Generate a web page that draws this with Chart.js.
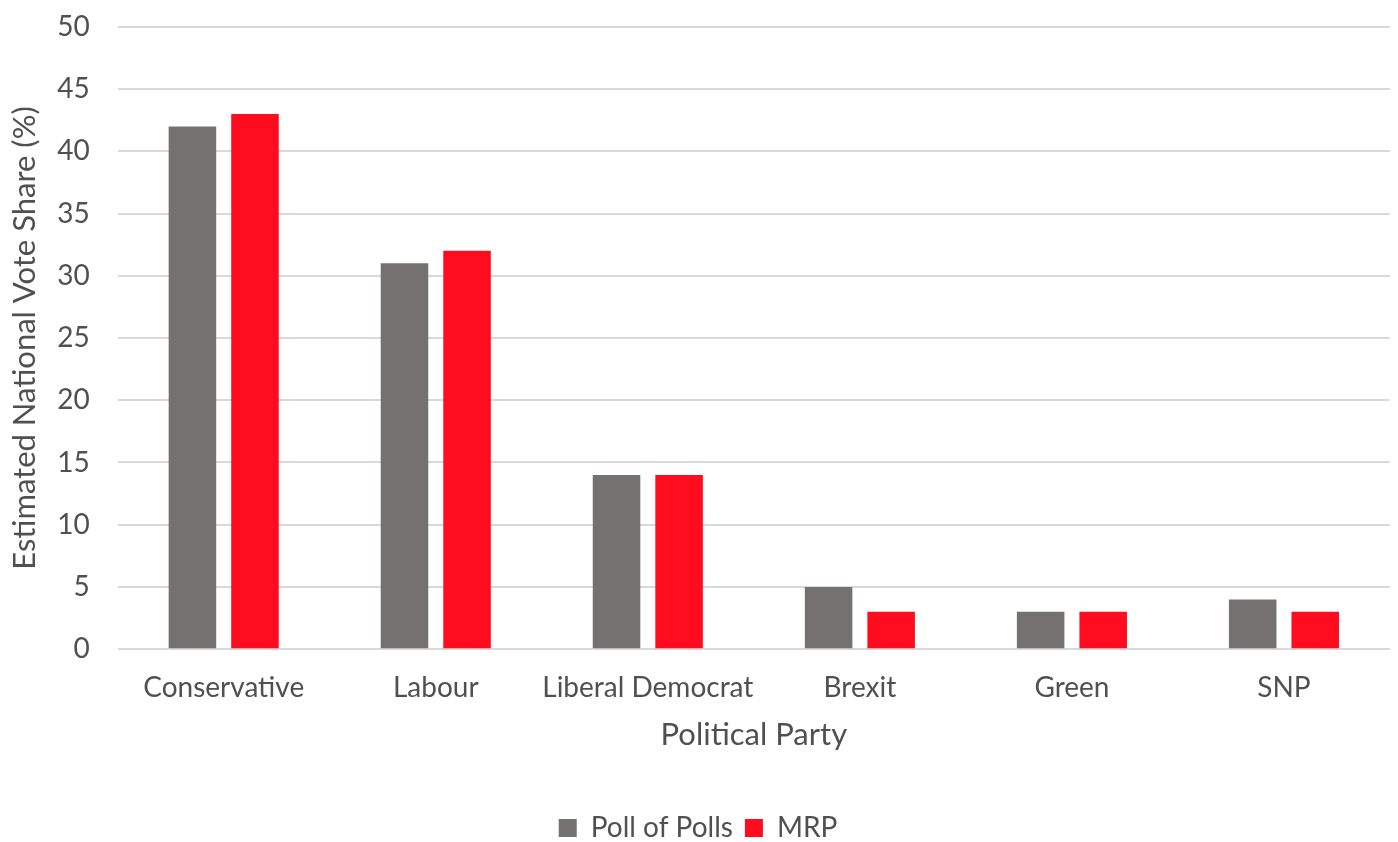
<!DOCTYPE html>
<html>
<head>
<meta charset="utf-8">
<script src="https://cdn.jsdelivr.net/npm/chart.js@4/dist/chart.umd.min.js"></script>
<style>
  body { margin: 0; background: #fff; overflow: hidden; }
  #wrap { width: 1398px; height: 860px; margin-top: -18px; }
</style>
</head>
<body>
<div id="wrap"><canvas id="chart"></canvas></div>
<script>
// party names along the x axis
var parties = ['Conservative', 'Labour', 'Liberal Democrat', 'Brexit', 'Green', 'SNP'];
// estimated national vote share (%)
var pollOfPolls = [42, 31, 14, 5, 3, 4];
var mrp = [43, 32, 14, 3, 3, 3];
var yTicks = { min: 0, max: 50, step: 5 };

var textColor = '#505050';
var fontFamily = 'Lato, "Open Sans", sans-serif';

var ctx = document.getElementById('chart').getContext('2d');
new Chart(ctx, {
    type: 'bar',
    data: {
        labels: parties,
        datasets: [{
            label: 'Poll of Polls',
            data: pollOfPolls,
            backgroundColor: '#767171'
        }, {
            label: 'MRP',
            data: mrp,
            backgroundColor: '#ff0d1f'
        }]
    },
    options: {
        responsive: true,
        maintainAspectRatio: false,
        animation: false,
        layout: { padding: { left: 6, right: 8, top: 0, bottom: -10 } },
        datasets: {
            bar: { categoryPercentage: 0.59, barPercentage: 0.76 }
        },
        scales: {
            x: {
                grid: { display: false },
                border: { display: false },
                ticks: {
                    color: textColor,
                    font: { family: fontFamily, size: 28 },
                    padding: 14,
                    maxRotation: 0,
                    minRotation: 0,
                    autoSkip: false
                },
                title: {
                    display: true,
                    text: 'Political Party',
                    color: textColor,
                    font: { family: fontFamily, size: 31 },
                    padding: { top: -2, bottom: 48 }
                }
            },
            y: {
                min: yTicks.min,
                max: yTicks.max,
                grid: { color: '#d9d9d9', lineWidth: 2, drawTicks: false },
                border: { display: false },
                ticks: {
                    stepSize: yTicks.step,
                    color: textColor,
                    font: { family: fontFamily, size: 28 },
                    padding: 28
                },
                title: {
                    display: true,
                    text: 'Estimated National Vote Share (%)',
                    color: textColor,
                    font: { family: fontFamily, size: 31 },
                    padding: { top: 0, bottom: -14 }
                }
            }
        },
        plugins: {
            legend: {
                position: 'bottom',
                labels: {
                    color: textColor,
                    font: { family: fontFamily, size: 28 },
                    usePointStyle: true,
                    pointStyle: 'rect',
                    boxWidth: 18,
                    boxHeight: 18,
                    padding: 12
                }
            },
            tooltip: { enabled: false }
        }
    }
});
</script>
</body>
</html>
